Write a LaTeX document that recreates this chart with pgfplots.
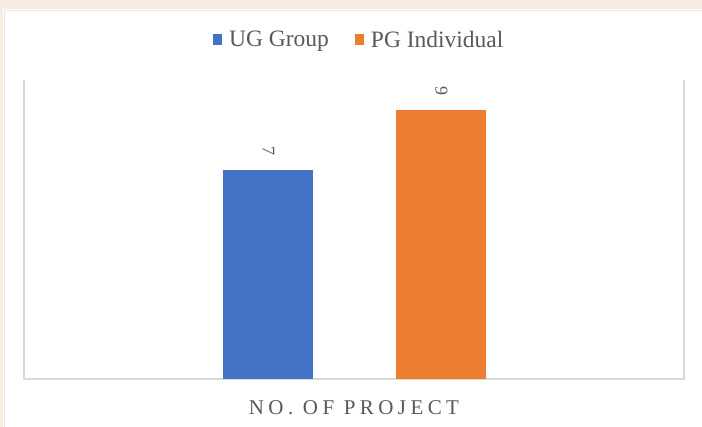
\documentclass[border=0pt]{standalone}
\usepackage{pgfplots}
\pgfplotsset{compat=1.18}
\usepackage{fontspec}
\setmainfont{Liberation Serif}
\definecolor{bgbeige}{HTML}{F8ECE2}
\definecolor{ugblue}{HTML}{4472C4}
\definecolor{pgorange}{HTML}{ED7D31}
\definecolor{txtgray}{HTML}{595959}
\definecolor{linegray}{HTML}{D9D9D9}
\begin{document}
\begin{tikzpicture}
\path[use as bounding box, fill=bgbeige] (0,0) rectangle (702bp,427bp);
\fill[white] (3bp,0) rectangle (702bp,418bp);
\draw[linegray!60, line width=0.6bp] (4bp,0) -- (4bp,417bp) -- (702bp,417bp);
\begin{axis}[
  at={(24bp,48bp)}, anchor=south west,
  scale only axis, width=660bp, height=299bp,
  ybar=83bp, bar width=90bp,
  xmin=-1, xmax=1, ymin=0, ymax=10,
  axis line style={draw=none},
  xtick=\empty, ytick=\empty,
  major tick length=0pt,
  /pgf/number format/assume math mode=true,
  nodes near coords,
  every node near coord/.append style={rotate=-90, anchor=east, font=\fontsize{18bp}{20bp}\selectfont, text=txtgray, xshift=-11bp, yshift=1bp},
  xlabel={\addfontfeature{LetterSpace=21}NO. OF PROJECT},
  xlabel style={at={(rel axis cs:0.5,0)}, anchor=north, yshift=-18bp, font=\fontsize{21bp}{24bp}\selectfont, text=txtgray},
  legend columns=2,
  legend style={at={(0.508,1.134)}, anchor=center, draw=none, fill=none,
    font=\fontsize{23.5bp}{26bp}\selectfont, text=txtgray,
    /tikz/every odd column/.append style={column sep=5bp},
    /tikz/every even column/.append style={column sep=24bp},
    inner sep=0pt, outer sep=0pt},
  legend image code/.code={\fill[#1] (0bp,-5.5bp) rectangle (9bp,5.5bp);},
  clip=false,
]
\draw[linegray, line width=1.2bp] (rel axis cs:0,1) -- (rel axis cs:0,0) -- (rel axis cs:1,0) -- (rel axis cs:1,1);
\addplot[fill=ugblue, draw=none] coordinates {(0,7)};
\addplot[fill=pgorange, draw=none] coordinates {(0,9)};
\legend{UG Group, PG Individual}
\end{axis}
\end{tikzpicture}
\end{document}
